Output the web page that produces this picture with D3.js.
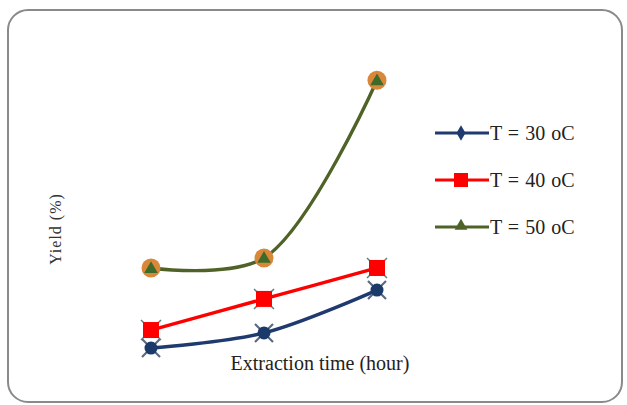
<!DOCTYPE html>
<html><head><meta charset="utf-8">
<script src="https://cdn.jsdelivr.net/npm/d3@7"></script>
<style>body{margin:0;background:#fff}svg{display:block}</style>
</head><body>
<script>
const times = [1, 2, 3];
const seriesNames = ["T = 30 oC", "T = 40 oC", "T = 50 oC"];
const yield30 = [2.35, 3.24, 5.76];
const yield40 = [3.41, 5.24, 7.06];
const yield50 = [7.06, 7.65, 18.1];
const colors = ["#1f3a6e", "#ff0000", "#4f6228"];

const W = 627, H = 405;
const svg = d3.select("body").append("svg").attr("width", W).attr("height", H);

svg.append("rect").attr("x", 8).attr("y", 10).attr("width", 614).attr("height", 392)
  .attr("rx", 20).attr("ry", 20).attr("fill", "#fff").attr("stroke", "#8a8a8a").attr("stroke-width", 2);

const x = d3.scaleLinear().domain([1, 3]).range([151, 377]);
const y = d3.scaleLinear().domain([0, 20]).range([388, 48]);

const series = [yield30, yield40, yield50];
const line = d3.line().x((d, i) => x(times[i])).y(d => y(d)).curve(d3.curveCatmullRom.alpha(0.5));

series.forEach((s, k) => {
  svg.append("path").datum(s).attr("d", line).attr("fill", "none")
    .attr("stroke", colors[k]).attr("stroke-width", 3.4);
});

function crossMarker(g, cx, cy, r, col, w) {
  g.append("path").attr("d", `M${cx-r},${cy-r}L${cx+r},${cy+r}M${cx-r},${cy+r}L${cx+r},${cy-r}`)
    .attr("stroke", col).attr("stroke-width", w).attr("fill", "none");
}

const mk = svg.append("g");
yield30.forEach((v, i) => {
  const cx = x(times[i]), cy = y(v);
  crossMarker(mk, cx, cy, 9, "#5a6a80", 2.2);
  mk.append("circle").attr("cx", cx).attr("cy", cy).attr("r", 6.5).attr("fill", "#1a3a6a");
});
yield40.forEach((v, i) => {
  const cx = x(times[i]), cy = y(v);
  crossMarker(mk, cx, cy, 10, "#5a8080", 1.5);
  mk.append("rect").attr("x", cx - 8).attr("y", cy - 8).attr("width", 16).attr("height", 16).attr("fill", "#ff0000");
});
yield50.forEach((v, i) => {
  const cx = x(times[i]), cy = y(v);
  mk.append("circle").attr("cx", cx).attr("cy", cy).attr("r", 9.5).attr("fill", "#d9883a");
  mk.append("path").attr("d", d3.symbol(d3.symbolTriangle, 80)()).attr("transform", `translate(${cx},${cy+1})`).attr("fill", "#3f6a2a");
});

const legY = [133, 180, 227];
seriesNames.forEach((name, k) => {
  const g = svg.append("g");
  g.append("line").attr("x1", 435).attr("x2", 489).attr("y1", legY[k]).attr("y2", legY[k])
    .attr("stroke", colors[k]).attr("stroke-width", 3);
  if (k === 0) g.append("path").attr("d", d3.symbol(d3.symbolDiamond, 70)()).attr("transform", `translate(461,${legY[k]})`).attr("fill", colors[k]);
  if (k === 1) g.append("rect").attr("x", 454).attr("y", legY[k] - 7).attr("width", 14).attr("height", 14).attr("fill", "#ff0000");
  if (k === 2) g.append("path").attr("d", d3.symbol(d3.symbolTriangle, 70)()).attr("transform", `translate(461,${legY[k]-1})`).attr("fill", colors[k]);
  g.append("text").attr("x", 490).attr("y", legY[k] + 6.5).text(name)
    .attr("font-family", "Liberation Serif, Times New Roman, serif").attr("font-size", 20).attr("fill", "#222")
    .attr("word-spacing", 1);
});

svg.append("text").attr("transform", "translate(61,229) rotate(-90)").attr("text-anchor", "middle")
  .attr("font-family", "Liberation Serif, Times New Roman, serif").attr("font-size", 16).attr("fill", "#333")
  .attr("letter-spacing", 1).text("Yield  (%)");

svg.append("text").attr("x", 320).attr("y", 370).attr("text-anchor", "middle")
  .attr("font-family", "Liberation Serif, Times New Roman, serif").attr("font-size", 20).attr("fill", "#222")
  .text("Extraction time (hour)");
</script>
</body></html>
